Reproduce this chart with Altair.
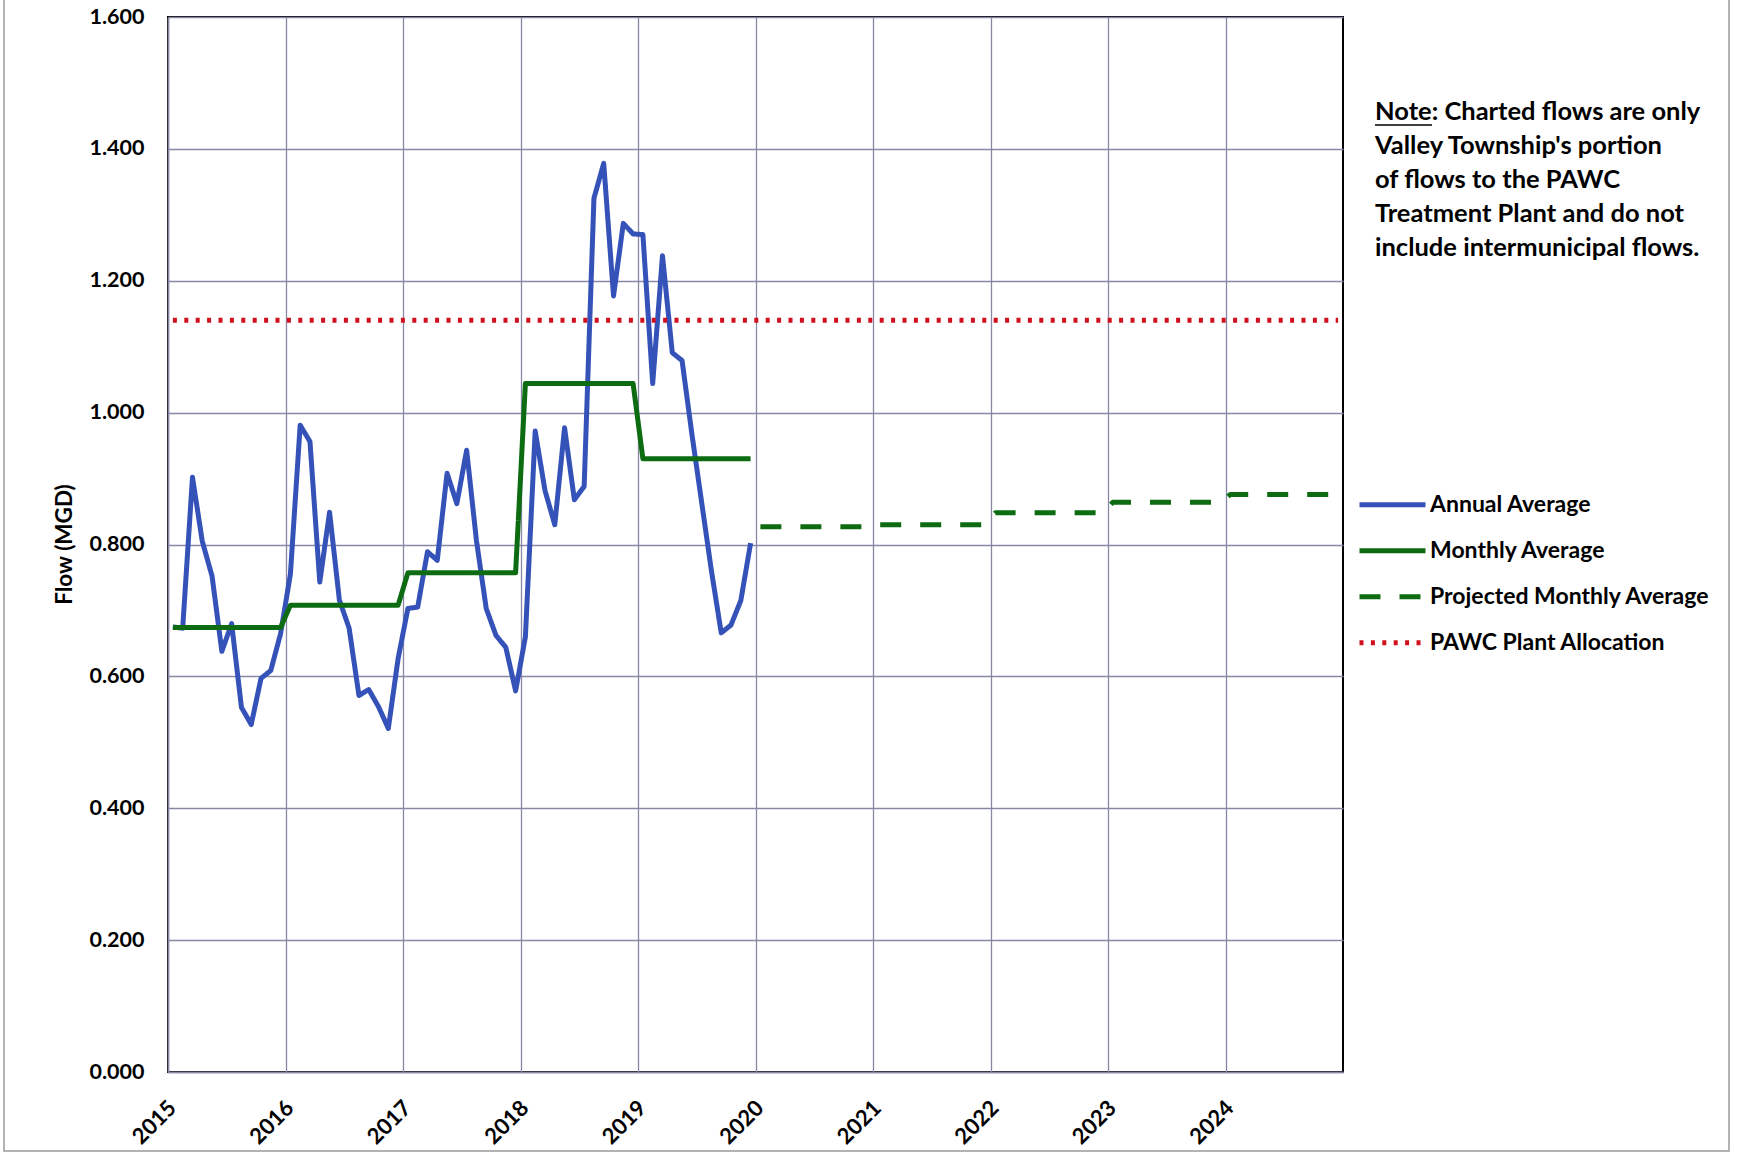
import altair as alt
import pandas as pd

# Series names shown in the legend
series_names = [
    "Annual Average",
    "Monthly Average",
    "Projected Monthly Average",
    "PAWC Plant Allocation",
]
series_colors = ["#3552b8", "#0d6b12", "#0d6b12", "#d0101c"]
series_dashes = [[1, 0], [1, 0], [21, 19], [4, 7.4]]

# Flow records, one value per month, Jan 2015 - Dec 2019 (MGD)
annual_average = [
    0.675, 0.673, 0.902, 0.805, 0.752, 0.638, 0.680, 0.553, 0.527, 0.597, 0.609, 0.665,
    0.755, 0.981, 0.956, 0.743, 0.849, 0.716, 0.673, 0.571, 0.580, 0.554, 0.521, 0.627,
    0.703, 0.705, 0.789, 0.776, 0.908, 0.862, 0.943, 0.806, 0.703, 0.662, 0.644, 0.578,
    0.660, 0.972, 0.882, 0.830, 0.977, 0.868, 0.888, 1.325, 1.378, 1.177, 1.287, 1.271,
    1.270, 1.044, 1.238, 1.091, 1.079, 0.968, 0.864, 0.760, 0.666, 0.678, 0.715, 0.802,
]

# Monthly average flow, same for every month of a year (MGD)
monthly_average = (
    [0.674] * 12 + [0.708] * 12 + [0.757] * 12 + [1.044] * 12 + [0.930] * 12
)

# Projected monthly average, Jan 2020 - Dec 2024 (MGD)
projected_average = (
    [0.827] * 12 + [0.830] * 12 + [0.848] * 12 + [0.864] * 12 + [0.876] * 12
)

# Treatment plant allocation (MGD)
plant_allocation = 1.140

year_ticks = list(range(2015, 2025))
flow_ticks = [0.0, 0.2, 0.4, 0.6, 0.8, 1.0, 1.2, 1.4, 1.6]

note_lines = [
    "Note: Charted flows are only",
    "Valley Township's portion",
    "of flows to the PAWC",
    "Treatment Plant and do not",
    "include intermunicipal flows.",
]


def month_position(start_year, k):
    # monthly points sit in the middle of each month slot
    return start_year + (k + 0.5) / 12.0


rows = []
for k, v in enumerate(annual_average):
    rows.append({"t": month_position(2015, k), "flow": v, "series": series_names[0]})
for k, v in enumerate(monthly_average):
    rows.append({"t": month_position(2015, k), "flow": v, "series": series_names[1]})
for k, v in enumerate(projected_average):
    rows.append({"t": month_position(2020, k), "flow": v, "series": series_names[2]})
rows.append({"t": month_position(2015, 0), "flow": plant_allocation, "series": series_names[3]})
rows.append({"t": month_position(2024, 11), "flow": plant_allocation, "series": series_names[3]})
flows = pd.DataFrame(rows)

FONT = "Lato"
GRID = "#8787a6"

legend = alt.Legend(
    title=None,
    orient="none",
    legendX=1189,
    legendY=465,
    symbolType="stroke",
    symbolSize=4356,
    symbolStrokeWidth=5,
    labelFont=FONT,
    labelFontSize=23,
    labelFontWeight="bold",
    labelColor="#000000",
    labelOffset=2,
    labelLimit=400,
    clipHeight=45.5,
    rowPadding=0,
    padding=0,
)

lines = alt.Chart(flows).mark_line(
    strokeWidth=5, strokeJoin="round", strokeCap="butt"
).encode(
    x=alt.X(
        "t:Q",
        scale=alt.Scale(domain=[2015, 2025], nice=False, zero=False),
        axis=alt.Axis(
            values=year_ticks,
            format="d",
            title=None,
            labelAngle=-45,
            labelAlign="right",
            labelBaseline="middle",
            labelPadding=32,
            labelOffset=4,
            labelFont=FONT,
            labelFontSize=22,
            labelFontWeight="bold",
        ),
    ),
    y=alt.Y(
        "flow:Q",
        scale=alt.Scale(domain=[0, 1.6], nice=False),
        axis=alt.Axis(
            values=flow_ticks,
            format=".3f",
            title="Flow (MGD)",
            labelPadding=24,
            labelFont=FONT,
            labelFontSize=21.5,
            labelFontWeight="bold",
            titleFont=FONT,
            titleFontSize=22.5,
            titleFontWeight="bold",
            titleAngle=-90,
            titleX=-104,
            titleY=527,
            titleAlign="center",
            titleBaseline="middle",
        ),
    ),
    color=alt.Color(
        "series:N",
        scale=alt.Scale(domain=series_names, range=series_colors),
        legend=legend,
    ),
    strokeDash=alt.StrokeDash(
        "series:N",
        scale=alt.Scale(domain=series_names, range=series_dashes),
        legend=legend,
    ),
)

note = alt.Chart(pd.DataFrame({"note": ["\n".join(note_lines)]})).mark_text(
    align="left",
    baseline="top",
    font=FONT,
    fontSize=25.5,
    fontWeight="bold",
    lineHeight=34,
    lineBreak="\n",
    color="#000000",
).encode(text="note:N", x=alt.value(1207), y=alt.value(83))

note_underline = alt.Chart(pd.DataFrame({"note": ["Note"]})).mark_rule(
    color="#000000", strokeWidth=1.6
).encode(x=alt.value(1207), x2=alt.value(1264), y=alt.value(108))

# thin frame around the whole chart area
frame = alt.Chart(pd.DataFrame({"note": ["frame"]})).mark_rect(
    fill=None, stroke="#9a9a9a", strokeWidth=1.5
).encode(
    x=alt.value(-164), x2=alt.value(1561), y=alt.value(-30), y2=alt.value(1134)
)

chart = (
    alt.layer(frame, lines, note, note_underline)
    .properties(
        width=1175,
        height=1055,
        autosize=alt.AutoSizeParams(type="none"),
        padding={"left": 168, "top": 17, "right": 394, "bottom": 81},
        background="#ffffff",
    )
    .configure_view(stroke="#000000", strokeWidth=2)
    .configure_axis(
        grid=True,
        gridColor=GRID,
        gridWidth=1.3,
        gridOpacity=1,
        domainColor=GRID,
        domainWidth=1.5,
        ticks=False,
        labelColor="#000000",
        titleColor="#000000",
    )
)

chart.save("out.html", embed_options={"renderer": "svg", "actions": False})
